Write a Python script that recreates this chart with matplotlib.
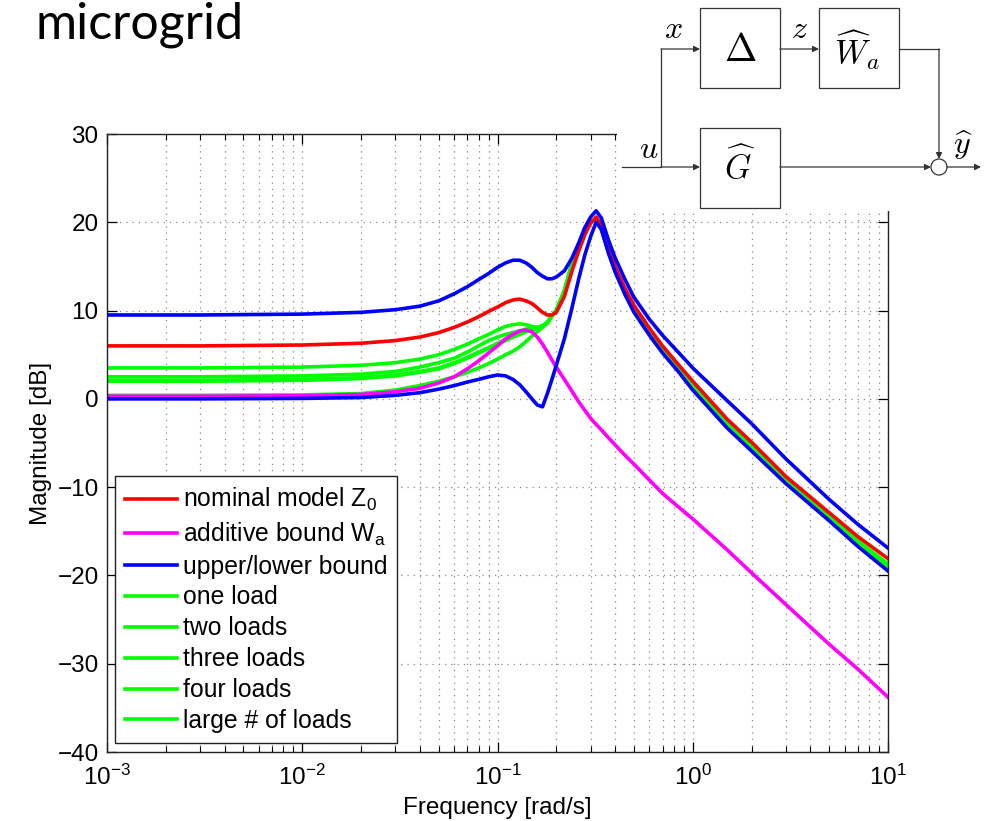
import numpy as np
import matplotlib
matplotlib.use('Agg')
import matplotlib.pyplot as plt
from matplotlib.patches import Rectangle, Circle
from matplotlib.ticker import LogLocator, NullFormatter

plt.rcParams['font.family'] = ['Liberation Sans', 'DejaVu Sans']
plt.rcParams['font.size'] = 17.5

# frequency points [rad/s] the curves were read at
freq = [0.001, 0.003, 0.01, 0.02, 0.03, 0.04, 0.05, 0.06, 0.07, 0.08, 0.09, 0.1,
        0.11, 0.12, 0.13, 0.14, 0.15, 0.16, 0.17, 0.18, 0.19, 0.2, 0.22, 0.24,
        0.26, 0.28, 0.3, 0.32, 0.34, 0.37, 0.4, 0.45, 0.5, 0.6, 0.7, 0.85, 1,
        1.5, 2, 3, 5, 7, 10]

# magnitudes [dB]
nominal = [6.0, 6.0, 6.1, 6.3, 6.6, 7.0, 7.5, 8.1, 8.7, 9.3, 9.9, 10.4,
           10.9, 11.2, 11.3, 11.1, 10.8, 10.3, 9.8, 9.5, 9.5, 9.8, 11.6, 14.4,
           16.7, 18.6, 19.9, 20.6, 19.7, 17.2, 15.0, 12.5, 10.6, 8.0, 6.0, 3.8, 2.0,
           -2.3, -4.9, -8.8, -12.9, -15.6, -18.1]
additive = [0.3, 0.3, 0.35, 0.5, 0.8, 1.2, 1.8, 2.5, 3.4, 4.3, 5.2, 6.0,
            6.8, 7.3, 7.7, 7.8, 7.6, 7.0, 6.2, 5.3, 4.4, 3.6, 2.2, 0.9,
            -0.3, -1.3, -2.2, -2.9, -3.5, -4.4, -5.2, -6.4, -7.4, -9.2, -10.7, -12.3, -13.6,
            -17.1, -19.7, -23.3, -27.8, -30.6, -33.8]
upper = [9.5, 9.5, 9.6, 9.8, 10.1, 10.5, 11.1, 11.9, 12.7, 13.5, 14.2, 14.9,
         15.4, 15.7, 15.7, 15.4, 14.9, 14.3, 13.9, 13.6, 13.6, 13.8, 14.5, 15.9,
         17.6, 19.4, 20.6, 21.3, 20.5, 18.0, 16.0, 13.5, 11.5, 9.0, 7.2, 5.2, 3.5,
         -0.2, -2.8, -6.8, -11.4, -14.2, -16.9]
lower = [0.0, 0.0, 0.05, 0.15, 0.4, 0.7, 1.1, 1.5, 1.9, 2.2, 2.5, 2.7,
         2.6, 2.2, 1.6, 0.8, 0.0, -0.7, -0.9, 0.6, 2.2, 3.8, 6.8, 10.2,
         13.5, 16.3, 18.4, 20.0, 19.2, 16.5, 14.4, 11.8, 9.8, 7.2, 5.2, 3.0, 1.0,
         -3.3, -5.9, -9.6, -13.8, -16.7, -19.5]
one_load = [3.5, 3.5, 3.6, 3.8, 4.1, 4.5, 5.0, 5.6, 6.2, 6.8, 7.3, 7.8,
            8.2, 8.4, 8.5, 8.4, 8.2, 8.1, 8.2, 8.6, 9.4, 10.0, 12.2, 15.2,
            17.5, 19.2, 20.0, 20.4, 19.5, 17.0, 14.8, 12.2, 10.3, 7.7, 5.7, 3.5, 1.7,
            -2.7, -5.3, -9.2, -13.3, -16.1, -18.7]
two_loads = [2.5, 2.5, 2.6, 2.8, 3.1, 3.6, 4.1, 4.6, 5.3, 6.0, 6.6, 7.0,
             7.3, 7.5, 7.7, 7.9, 8.0, 8.1, 8.3, 8.7, 9.4, 10.0, 12.2, 15.2,
             17.5, 19.2, 20.0, 20.4, 19.4, 16.9, 14.7, 12.1, 10.2, 7.6, 5.6, 3.4, 1.6,
             -2.8, -5.4, -9.3, -13.4, -16.2, -18.8]
three_loads = [2.0, 2.0, 2.1, 2.3, 2.6, 3.0, 3.4, 4.0, 4.6, 5.2, 5.7, 6.2,
               6.6, 7.0, 7.3, 7.6, 7.8, 8.0, 8.2, 8.6, 9.4, 10.0, 12.2, 15.2,
               17.5, 19.2, 20.0, 20.3, 19.3, 16.8, 14.6, 12.0, 10.1, 7.5, 5.5, 3.3, 1.5,
               -2.9, -5.5, -9.4, -13.6, -16.4, -19.0]
four_loads = [0.4, 0.4, 0.45, 0.6, 1.0, 1.5, 2.0, 2.5, 3.0, 3.5, 4.0, 4.5,
              5.0, 5.4, 5.9, 6.5, 7.1, 7.6, 8.1, 8.6, 9.4, 10.0, 12.2, 15.2,
              17.5, 19.2, 20.0, 20.3, 19.3, 16.7, 14.5, 11.9, 10.0, 7.4, 5.4, 3.2, 1.4,
              -3.0, -5.6, -9.5, -13.7, -16.5, -19.1]
many_loads = [2.1, 2.1, 2.2, 2.4, 2.7, 3.1, 3.5, 4.1, 4.7, 5.3, 5.8, 6.3,
              6.7, 7.1, 7.4, 7.7, 7.9, 8.0, 8.2, 8.6, 9.4, 10.0, 12.2, 15.2,
              17.5, 19.2, 20.0, 20.3, 19.3, 16.7, 14.5, 11.9, 10.0, 7.4, 5.4, 3.2, 1.4,
              -3.0, -5.6, -9.5, -13.8, -16.6, -19.2]

loads = [one_load, two_loads, three_loads, four_loads, many_loads]
load_names = ['one load', 'two loads', 'three loads', 'four loads', 'large # of loads']

W, H = 990, 821
fig = plt.figure(figsize=(W / 100, H / 100), dpi=100)
ax = fig.add_axes([107 / W, 1 - 752 / H, 781 / W, 618 / H])

lw = 2.6
green_h = []
for vals, name in zip(loads, load_names):
    h, = ax.semilogx(freq, vals, color=(0, 1, 0), lw=lw, label=name)
    green_h.append(h)
h_wa, = ax.semilogx(freq, additive, color=(1, 0, 1), lw=lw, label=r'additive bound W$_\mathregular{a}$')
h_z0, = ax.semilogx(freq, nominal, color=(1, 0, 0), lw=lw, label=r'nominal model Z$_\mathregular{0}$')
h_ub, = ax.semilogx(freq, upper, color=(0, 0, 1), lw=lw, label='upper/lower bound')
ax.semilogx(freq, lower, color=(0, 0, 1), lw=lw)

ax.set_xlim(1e-3, 10)
ax.set_ylim(-40, 30)
ax.set_yticks(np.arange(-40, 31, 10))
ax.xaxis.set_major_locator(LogLocator(base=10, numticks=10))
ax.xaxis.set_minor_locator(LogLocator(base=10, subs=np.arange(2, 10), numticks=20))
ax.xaxis.set_minor_formatter(NullFormatter())

ax.grid(True, which='major', color='#888888', linestyle=(0, (1, 4)), lw=0.9)
ax.grid(True, which='minor', axis='x', color='#888888', linestyle=(0, (1, 4)), lw=0.9)
ax.tick_params(which='major', direction='in', length=7, width=0.9, top=True, right=True,
               labelsize=17.5)
ax.tick_params(axis='x', which='major', pad=9)
ax.tick_params(axis='y', which='major', pad=6)
ax.tick_params(which='minor', direction='in', length=4, width=0.8, top=True, right=True)
for s in ax.spines.values():
    s.set_linewidth(1.0)
    s.set_color('#222222')

ax.set_xlabel('Frequency [rad/s]', fontsize=17.5, labelpad=5)
ax.set_ylabel('Magnitude [dB]', fontsize=17.5, labelpad=4)

leg = ax.legend(handles=[h_z0, h_wa, h_ub] + green_h, loc='lower left',
                bbox_to_anchor=(8 / 781, 9 / 618), fontsize=17.8, frameon=True,
                fancybox=False, edgecolor='#222222', framealpha=1,
                handlelength=2.1, handletextpad=0.25, borderpad=0.4,
                labelspacing=0.28, borderaxespad=0)
leg.get_frame().set_linewidth(1.0)

# overlay in pixel coordinates: slide title and block diagram
ov = fig.add_axes([0, 0, 1, 1])
ov.set_xlim(0, W)
ov.set_ylim(H, 0)
ov.axis('off')

ov.text(244, 39, 'microgrid', fontsize=36, family=['Lato', 'DejaVu Sans'],
        ha='right', va='baseline', color='black')

ov.add_patch(Rectangle((617, 0), W - 617, 211, facecolor='white', edgecolor='none'))

bc = '#333333'
for bx, by in [(700, 8), (819, 8), (700, 128)]:
    ov.add_patch(Rectangle((bx, by), 80, 80, facecolor='white', edgecolor=bc, lw=0.9))
ov.add_patch(Circle((939, 167), 8, facecolor='white', edgecolor=bc, lw=0.9))

ov.plot([622, 661, 661], [167, 167, 49], color=bc, lw=0.9)
ov.plot([899, 939], [49, 49], color=bc, lw=0.9)

arr = dict(arrowstyle='-|>', color=bc, lw=0.9, mutation_scale=9, shrinkA=0, shrinkB=0)
for (x0, y0), (x1, y1) in [((661, 167), (700, 167)), ((661, 49), (700, 49)),
                           ((780, 49), (819, 49)), ((939, 49), (939, 159)),
                           ((780, 167), (931, 167)), ((947, 167), (981, 167))]:
    ov.annotate('', xy=(x1, y1), xytext=(x0, y0), arrowprops=arr)

mt = dict(math_fontfamily='cm', ha='center', va='center', color='black')
ov.text(740, 51, r'$\mathbf{\Delta}$', fontsize=28, **mt)
ov.text(857, 50, r'$\widehat{W}_a$', fontsize=24, **mt)
ov.text(740, 166, r'$\widehat{G}$', fontsize=24, **mt)
ov.text(673, 30, r'$x$', fontsize=23, **mt)
ov.text(799, 30, r'$z$', fontsize=23, **mt)
ov.text(649, 150, r'$u$', fontsize=23, **mt)
ov.text(963, 145, r'$\widehat{y}$', fontsize=23, **mt)

fig.savefig('out.png', dpi=100)
